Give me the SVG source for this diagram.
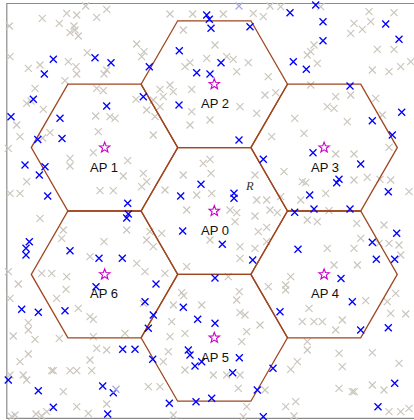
<svg xmlns="http://www.w3.org/2000/svg" width="414" height="420" viewBox="0 0 414 420">
<style>
.hex{fill:none;stroke:#a0461e;stroke-width:1.3;stroke-linejoin:miter}
.lbl{font-family:"Liberation Sans",Arial,sans-serif;font-size:13px;fill:#111;text-anchor:middle}
.rl{font-family:"Liberation Serif","Times New Roman",serif;font-style:italic;font-size:12.5px;fill:#333}
.star{fill:#fff;stroke:#cc00cc;stroke-width:1.1}
</style>
<defs>
<path id="g" d="M-3.5,-3.5L3.5,3.5M-3.5,3.5L3.5,-3.5" stroke="#cbc6bd" stroke-width="1.2" fill="none"/>
<path id="b" d="M-3.5,-3.5L3.5,3.5M-3.5,3.5L3.5,-3.5" stroke="#0000ff" stroke-width="1.3" fill="none"/>
<path id="lb" d="M-3.5,-3.5L3.5,3.5M-3.5,3.5L3.5,-3.5" stroke="#a8a8e8" stroke-width="1.3" fill="none"/>
<path id="s" d="M0,-5.5L1.35,-1.86L5.23,-1.7L2.19,0.71L3.23,4.45L0,2.3L-3.23,4.45L-2.19,0.71L-5.23,-1.7L-1.35,-1.86Z"/>
</defs>
<rect x="0" y="0" width="414" height="420" fill="#fff"/>
<path d="M415,3.5H6.8V418.3H415" fill="none" stroke="#8c8c8c" stroke-width="1.2"/>
<g id="gray">
<use href="#g" x="42.3" y="18.3"/><use href="#g" x="85.7" y="6"/><use href="#g" x="66.7" y="13.3"/><use href="#g" x="76.7" y="15"/><use href="#g" x="96.7" y="17.3"/><use href="#g" x="106.7" y="9.3"/><use href="#g" x="59.3" y="23.3"/><use href="#g" x="74" y="26"/><use href="#g" x="70" y="32.7"/><use href="#g" x="78.3" y="36"/><use href="#g" x="75" y="30"/><use href="#g" x="9.3" y="26"/><use href="#g" x="10" y="56.7"/><use href="#g" x="28.3" y="68.3"/><use href="#g" x="40" y="65"/><use href="#g" x="68.3" y="61.7"/><use href="#g" x="76" y="66.7"/><use href="#g" x="76.7" y="74"/><use href="#g" x="87.3" y="52.7"/><use href="#g" x="106.7" y="70"/><use href="#g" x="104" y="74"/><use href="#g" x="65" y="80.7"/><use href="#g" x="35" y="88.3"/><use href="#g" x="26.7" y="103.3"/><use href="#g" x="31" y="101"/><use href="#g" x="43.3" y="109.3"/><use href="#g" x="96.7" y="88.3"/><use href="#g" x="103.3" y="90.7"/><use href="#g" x="95.7" y="116"/><use href="#g" x="115" y="118.3"/><use href="#g" x="110" y="116.7"/><use href="#g" x="136.7" y="44"/><use href="#g" x="136" y="99.3"/><use href="#g" x="98.3" y="131.7"/><use href="#g" x="16.7" y="125"/><use href="#g" x="20" y="136.7"/><use href="#g" x="50" y="132.7"/><use href="#g" x="42.7" y="138"/>
<use href="#g" x="170" y="14"/><use href="#g" x="192.7" y="14"/><use href="#g" x="223.3" y="14"/><use href="#g" x="253.3" y="13.3"/><use href="#g" x="263.3" y="16.7"/><use href="#g" x="270" y="6"/><use href="#g" x="183.3" y="30"/><use href="#g" x="215" y="45"/><use href="#g" x="144" y="51.7"/><use href="#g" x="190" y="62.7"/><use href="#g" x="185" y="66.7"/><use href="#g" x="206.7" y="58.3"/><use href="#g" x="233.3" y="59.3"/><use href="#g" x="226.7" y="56.7"/><use href="#g" x="248.3" y="62.7"/><use href="#g" x="268.3" y="76.7"/><use href="#g" x="236.7" y="71.7"/><use href="#g" x="170" y="85"/><use href="#g" x="160" y="89.3"/><use href="#g" x="191.7" y="89.3"/><use href="#g" x="173.3" y="91.7"/><use href="#g" x="163.3" y="96.7"/><use href="#g" x="153.3" y="100"/><use href="#g" x="160" y="106.7"/><use href="#g" x="146.7" y="110"/><use href="#g" x="191.7" y="111.7"/><use href="#g" x="210" y="120"/><use href="#g" x="190" y="125"/><use href="#g" x="155" y="116.7"/><use href="#g" x="256.7" y="113.3"/><use href="#g" x="265" y="95"/><use href="#g" x="153.3" y="135"/><use href="#g" x="271.7" y="136.7"/><use href="#g" x="141.7" y="56.7"/><use href="#g" x="240" y="106.7"/>
<use href="#g" x="280.7" y="6.7"/><use href="#g" x="320.7" y="6.7"/><use href="#g" x="369" y="11.7"/><use href="#g" x="394" y="12.7"/><use href="#g" x="354" y="23.3"/><use href="#g" x="370.7" y="21.7"/><use href="#g" x="362.3" y="29.3"/><use href="#g" x="350.7" y="33.3"/><use href="#g" x="314" y="45"/><use href="#g" x="310.7" y="51.7"/><use href="#g" x="307.3" y="55"/><use href="#g" x="317.3" y="63.3"/><use href="#g" x="377.3" y="49.3"/><use href="#g" x="394" y="49.3"/><use href="#g" x="372.3" y="70"/><use href="#g" x="389" y="71.7"/><use href="#g" x="400.7" y="66.7"/><use href="#g" x="410.7" y="61.7"/><use href="#g" x="310.7" y="85"/><use href="#g" x="335.7" y="96.7"/><use href="#g" x="350.7" y="95"/><use href="#g" x="375.7" y="98.3"/><use href="#g" x="327.3" y="106.7"/><use href="#g" x="334" y="108.3"/><use href="#g" x="382.3" y="115"/><use href="#g" x="294.7" y="118.3"/><use href="#g" x="347.3" y="121.7"/><use href="#g" x="304" y="133.3"/><use href="#g" x="275.7" y="92.7"/>
<use href="#g" x="8.3" y="148.3"/><use href="#g" x="70" y="158.3"/><use href="#g" x="70" y="166"/><use href="#g" x="93.3" y="152.7"/><use href="#g" x="127.7" y="160.7"/><use href="#g" x="123.3" y="176"/><use href="#g" x="26.7" y="181.7"/><use href="#g" x="10" y="193.3"/><use href="#g" x="20" y="193.3"/><use href="#g" x="100" y="190.7"/><use href="#g" x="113.3" y="190.7"/><use href="#g" x="40" y="218.3"/><use href="#g" x="63.3" y="230"/><use href="#g" x="104" y="241.7"/><use href="#g" x="61.7" y="238.3"/><use href="#g" x="90" y="256.7"/><use href="#g" x="126.7" y="230"/><use href="#g" x="136.7" y="263.3"/><use href="#g" x="8.3" y="271.7"/><use href="#g" x="41.7" y="273.3"/><use href="#g" x="51.7" y="273.3"/><use href="#g" x="66.7" y="276.7"/>
<use href="#g" x="203.3" y="163.3"/><use href="#g" x="210" y="159.3"/><use href="#g" x="183.3" y="175"/><use href="#g" x="211" y="173.3"/><use href="#g" x="255" y="175"/><use href="#g" x="143.3" y="173.3"/><use href="#g" x="146.7" y="181.7"/><use href="#g" x="141.7" y="186.7"/><use href="#g" x="165" y="190"/><use href="#g" x="196.7" y="195"/><use href="#g" x="211.7" y="193.3"/><use href="#g" x="256.7" y="200"/><use href="#g" x="266.7" y="200"/><use href="#g" x="270" y="210"/><use href="#g" x="186.7" y="210"/><use href="#g" x="230" y="210"/><use href="#g" x="236.7" y="212.7"/><use href="#g" x="255" y="216"/><use href="#g" x="235" y="221.7"/><use href="#g" x="266.7" y="227.3"/><use href="#g" x="150" y="231.7"/><use href="#g" x="161.7" y="233.3"/><use href="#g" x="146.7" y="240"/><use href="#g" x="210" y="240"/><use href="#g" x="240" y="246.7"/><use href="#g" x="255" y="248.3"/><use href="#g" x="266.7" y="241.7"/><use href="#g" x="240" y="258.3"/><use href="#g" x="258.3" y="231.7"/><use href="#g" x="186.7" y="266.7"/><use href="#g" x="165" y="273.3"/><use href="#g" x="145" y="271.7"/><use href="#g" x="228.3" y="276.7"/><use href="#g" x="153.3" y="246.7"/>
<use href="#g" x="335.7" y="154"/><use href="#g" x="354" y="154"/><use href="#g" x="389" y="147.3"/><use href="#g" x="284" y="171.7"/><use href="#g" x="302.3" y="181.7"/><use href="#g" x="305.7" y="182.7"/><use href="#g" x="325.7" y="193.3"/><use href="#g" x="354" y="180"/><use href="#g" x="367.3" y="177.3"/><use href="#g" x="380" y="179.3"/><use href="#g" x="390.7" y="180"/><use href="#g" x="409" y="191.7"/><use href="#g" x="280.7" y="196.7"/><use href="#g" x="300.7" y="200"/><use href="#g" x="329" y="210.7"/><use href="#g" x="307.3" y="220"/><use href="#g" x="317.3" y="221.7"/><use href="#g" x="277.3" y="212.7"/><use href="#g" x="356.7" y="223.3"/><use href="#g" x="384" y="225"/><use href="#g" x="360.7" y="238.3"/><use href="#g" x="379" y="243.3"/><use href="#g" x="389" y="243.3"/><use href="#g" x="399" y="245"/><use href="#g" x="327.3" y="248.3"/><use href="#g" x="354" y="248.3"/><use href="#g" x="334" y="265"/><use href="#g" x="357.3" y="265"/><use href="#g" x="290.7" y="276.7"/><use href="#g" x="400.7" y="255"/>
<use href="#g" x="18.3" y="284"/><use href="#g" x="66" y="289.3"/><use href="#g" x="56.7" y="298.3"/><use href="#g" x="10" y="298.3"/><use href="#g" x="78.3" y="308.3"/><use href="#g" x="90" y="316.7"/><use href="#g" x="93.3" y="319.3"/><use href="#g" x="28.3" y="322.7"/><use href="#g" x="28.3" y="330"/><use href="#g" x="35" y="339.3"/><use href="#g" x="13.3" y="336"/><use href="#g" x="59.3" y="338.3"/><use href="#g" x="93.3" y="336.7"/><use href="#g" x="125" y="333.3"/><use href="#g" x="96.7" y="348.3"/><use href="#g" x="106.7" y="350"/><use href="#g" x="20" y="361.7"/><use href="#g" x="28.3" y="354"/><use href="#g" x="90" y="360"/><use href="#g" x="10" y="375"/><use href="#g" x="23.3" y="375"/><use href="#g" x="51.7" y="370.7"/><use href="#g" x="53.3" y="370.7"/><use href="#g" x="70" y="370.7"/><use href="#g" x="76.7" y="370.7"/><use href="#g" x="91.7" y="370.7"/><use href="#g" x="26.7" y="380"/><use href="#g" x="63.3" y="391.7"/><use href="#g" x="46.7" y="411.7"/><use href="#g" x="76.7" y="406.7"/><use href="#g" x="106.7" y="404"/><use href="#g" x="11.7" y="416.7"/><use href="#g" x="15" y="415"/><use href="#g" x="41.7" y="416"/><use href="#g" x="36" y="414"/><use href="#g" x="88.3" y="413.3"/>
<use href="#g" x="181.7" y="292.7"/><use href="#g" x="183.7" y="295.7"/><use href="#g" x="239.3" y="291.7"/><use href="#g" x="268.3" y="286.7"/><use href="#g" x="201.7" y="305"/><use href="#g" x="173.3" y="305"/><use href="#g" x="236.7" y="300"/><use href="#g" x="240" y="312.7"/><use href="#g" x="245" y="315"/><use href="#g" x="260" y="325"/><use href="#g" x="246.7" y="331.7"/><use href="#g" x="171.7" y="321.7"/><use href="#g" x="170" y="336.7"/><use href="#g" x="185" y="333.3"/><use href="#g" x="143.3" y="303.3"/><use href="#g" x="241.7" y="341.7"/><use href="#g" x="168.3" y="351.7"/><use href="#g" x="163.3" y="361.7"/><use href="#g" x="185" y="370"/><use href="#g" x="213.3" y="375"/><use href="#g" x="240" y="375"/><use href="#g" x="226.7" y="375"/><use href="#g" x="148.3" y="386.7"/><use href="#g" x="160" y="386.7"/><use href="#g" x="238.3" y="388.3"/><use href="#g" x="265" y="390"/><use href="#g" x="246.7" y="406.7"/><use href="#g" x="173.3" y="415"/><use href="#g" x="243.3" y="416.7"/>
<use href="#g" x="285.7" y="285"/><use href="#g" x="285.7" y="290"/><use href="#g" x="309" y="308.3"/><use href="#g" x="365.7" y="300.7"/><use href="#g" x="387.3" y="301.7"/><use href="#g" x="395.7" y="293.3"/><use href="#g" x="390.7" y="313.3"/><use href="#g" x="405.7" y="314"/><use href="#g" x="302.3" y="321.7"/><use href="#g" x="314" y="321.7"/><use href="#g" x="322.3" y="321.7"/><use href="#g" x="342.3" y="320"/><use href="#g" x="335.7" y="330"/><use href="#g" x="307.3" y="341.7"/><use href="#g" x="307.3" y="350"/><use href="#g" x="339" y="353.3"/><use href="#g" x="372.3" y="352.7"/><use href="#g" x="297.3" y="361.7"/><use href="#g" x="290.7" y="369.3"/><use href="#g" x="342.3" y="366.7"/><use href="#g" x="399" y="363.3"/><use href="#g" x="339" y="388.3"/><use href="#g" x="352.3" y="391.7"/><use href="#g" x="354.3" y="391.7"/><use href="#g" x="372.3" y="385"/><use href="#g" x="384" y="390"/><use href="#g" x="285.7" y="406.7"/><use href="#g" x="295.7" y="401.7"/><use href="#g" x="294" y="416"/><use href="#g" x="389" y="411.7"/><use href="#g" x="400.7" y="411.7"/><use href="#g" x="409" y="408.3"/>
</g>
<g id="connectors">
<polygon id="hex0" class="hex" points="287.5,211 250.9,274.4 177.7,274.4 141.1,211 177.7,147.6 250.9,147.6"/>
<polygon id="hex1" class="hex" points="177.7,147.6 141.1,211 67.9,211 31.3,147.6 67.9,84.2 141.1,84.2"/>
<polygon id="hex2" class="hex" points="287.5,84.2 250.9,147.6 177.7,147.6 141.1,84.2 177.7,20.8 250.9,20.8"/>
<polygon id="hex3" class="hex" points="397.3,147.6 360.7,211 287.5,211 250.9,147.6 287.5,84.2 360.7,84.2"/>
<polygon id="hex4" class="hex" points="397.3,274.4 360.7,337.8 287.5,337.8 250.9,274.4 287.5,211 360.7,211"/>
<polygon id="hex5" class="hex" points="287.5,337.8 250.9,401.2 177.7,401.2 141.1,337.8 177.7,274.4 250.9,274.4"/>
<polygon id="hex6" class="hex" points="177.7,274.4 141.1,337.8 67.9,337.8 31.3,274.4 67.9,211 141.1,211"/>
</g>
<g id="users">
<use href="#b" x="53.3" y="59.3"/><use href="#b" x="44.3" y="74"/><use href="#b" x="95" y="57.7"/><use href="#b" x="111" y="62.7"/><use href="#b" x="33.3" y="99.3"/><use href="#b" x="11" y="116.7"/><use href="#b" x="60" y="118.3"/><use href="#b" x="106.7" y="106"/><use href="#b" x="62" y="138.5"/><use href="#b" x="37.8" y="139.5"/>
<use href="#b" x="206.7" y="15"/><use href="#b" x="209.3" y="19.3"/><use href="#b" x="211" y="28.3"/><use href="#b" x="250" y="26.7"/><use href="#b" x="179.3" y="50.7"/><use href="#b" x="221" y="62.7"/><use href="#b" x="196.7" y="72.7"/><use href="#b" x="210" y="74"/><use href="#b" x="149.3" y="66.7"/><use href="#b" x="143.3" y="96.7"/><use href="#b" x="179" y="105"/><use href="#b" x="239" y="140"/><use href="#lb" x="239" y="6"/>
<use href="#b" x="315.7" y="5"/><use href="#b" x="290" y="12.7"/><use href="#b" x="323" y="21.7"/><use href="#b" x="323" y="40.7"/><use href="#b" x="385.7" y="24"/><use href="#b" x="399" y="39.3"/><use href="#b" x="293.3" y="61.7"/><use href="#b" x="306.3" y="69.3"/><use href="#b" x="350" y="86"/><use href="#b" x="401.7" y="112.3"/><use href="#b" x="372.3" y="120.7"/><use href="#b" x="392.3" y="135"/>
<use href="#b" x="25" y="165"/><use href="#b" x="45" y="166.7"/><use href="#b" x="39.3" y="175"/><use href="#b" x="47.7" y="196"/><use href="#b" x="127.7" y="203.3"/><use href="#b" x="128.3" y="214"/><use href="#b" x="126.7" y="218"/><use href="#b" x="29.3" y="241.7"/><use href="#b" x="26" y="248.3"/><use href="#b" x="26" y="255"/><use href="#b" x="70" y="250.7"/><use href="#b" x="99" y="258.3"/><use href="#b" x="122.3" y="258.3"/>
<use href="#b" x="263.3" y="159.3"/><use href="#b" x="201" y="184.3"/><use href="#b" x="180.7" y="196"/><use href="#b" x="234" y="193.3"/><use href="#b" x="234" y="198.3"/><use href="#b" x="182.7" y="231"/><use href="#b" x="222.3" y="244.3"/><use href="#b" x="252.7" y="260"/><use href="#b" x="215" y="278"/>
<use href="#b" x="313" y="152.7"/><use href="#b" x="360.7" y="164"/><use href="#b" x="339" y="179.3"/><use href="#b" x="336.7" y="182.7"/><use href="#b" x="388.3" y="191.7"/><use href="#b" x="309.7" y="195"/><use href="#b" x="314" y="209"/><use href="#b" x="294.7" y="212.3"/><use href="#b" x="350" y="209"/><use href="#b" x="396.7" y="233.3"/><use href="#b" x="372.3" y="242.3"/><use href="#b" x="376.3" y="259.3"/><use href="#b" x="394.7" y="259.3"/><use href="#b" x="298" y="249.3"/><use href="#b" x="341" y="278.5"/>
<use href="#b" x="96" y="286.7"/><use href="#b" x="21.7" y="309.3"/><use href="#b" x="38.3" y="312.3"/><use href="#b" x="65" y="310.7"/><use href="#b" x="122.7" y="349.3"/><use href="#b" x="135" y="349.3"/><use href="#b" x="8.3" y="380"/><use href="#b" x="38.3" y="390.7"/><use href="#b" x="102.7" y="386"/><use href="#b" x="113.3" y="392.7"/><use href="#lb" x="116" y="389.3"/><use href="#b" x="53.3" y="407.3"/><use href="#b" x="107.7" y="414"/>
<use href="#b" x="156" y="284"/><use href="#b" x="145" y="301.7"/><use href="#b" x="183.3" y="307.3"/><use href="#b" x="153.3" y="315"/><use href="#b" x="197.7" y="319.3"/><use href="#b" x="215" y="323.3"/><use href="#b" x="148.3" y="328.3"/><use href="#b" x="188.3" y="350"/><use href="#b" x="190" y="355"/><use href="#b" x="201.7" y="361.7"/><use href="#b" x="195" y="366"/><use href="#b" x="239.3" y="357.7"/><use href="#b" x="152.7" y="359.3"/><use href="#b" x="232.7" y="372.7"/><use href="#b" x="273" y="368.3"/><use href="#b" x="257.3" y="390"/><use href="#b" x="211.7" y="398.3"/><use href="#b" x="196" y="401.7"/><use href="#b" x="169.3" y="403.3"/><use href="#b" x="263.3" y="416.7"/><use href="#b" x="280" y="311.7"/>
<use href="#b" x="352.3" y="301.7"/><use href="#b" x="360.7" y="330"/><use href="#b" x="388.3" y="327.7"/><use href="#b" x="394.7" y="383.3"/><use href="#b" x="378" y="406.7"/>
</g>
<g id="ap0"><use href="#s" class="star" x="214.3" y="211"/><text class="lbl" x="215" y="235">AP 0</text></g>
<g id="ap1"><use href="#s" class="star" x="104.7" y="147.6"/><text class="lbl" x="104" y="171.6">AP 1</text></g>
<g id="ap2"><use href="#s" class="star" x="214.3" y="84.2"/><text class="lbl" x="215" y="108.2">AP 2</text></g>
<g id="ap3"><use href="#s" class="star" x="324.1" y="147.6"/><text class="lbl" x="325" y="171.6">AP 3</text></g>
<g id="ap4"><use href="#s" class="star" x="324.1" y="274.4"/><text class="lbl" x="325" y="298.4">AP 4</text></g>
<g id="ap5"><use href="#s" class="star" x="214.3" y="337.8"/><text class="lbl" x="215" y="361.8">AP 5</text></g>
<g id="ap6"><use href="#s" class="star" x="104.7" y="274.4"/><text class="lbl" x="104" y="298.4">AP 6</text></g>
<text class="rl" x="246" y="190">R</text>
</svg>
